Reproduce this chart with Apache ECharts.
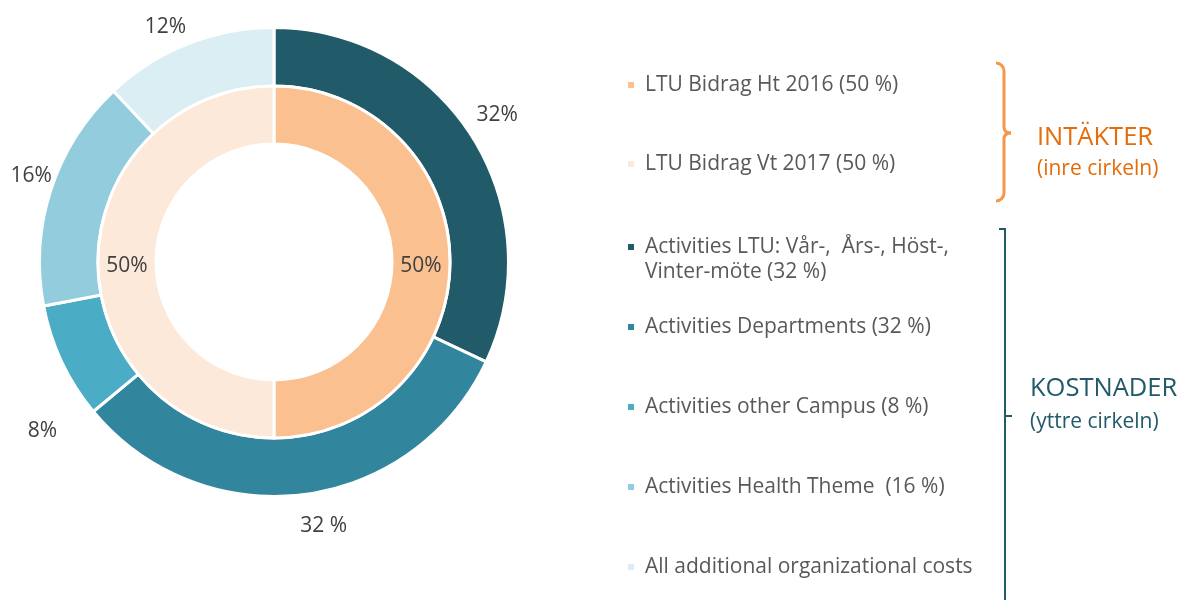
<!DOCTYPE html>
<html>
<head>
<meta charset="utf-8">
<script src="https://cdn.jsdelivr.net/npm/echarts@6/dist/echarts.min.js"></script>
<style>
  html, body { margin: 0; padding: 0; background: #fff; }
  #main { width: 1179px; height: 600px; }
</style>
</head>
<body>
<div id="main"></div>
<script>
// inre cirkeln (intäkter)
var innerNames = ['LTU Bidrag Ht 2016 (50 %)', 'LTU Bidrag Vt 2017 (50 %)'];
var innerValues = [50, 50];
var innerLabels = ['50%', '50%'];
var innerColors = ['#FAC090', '#FDE9D9'];

// yttre cirkeln (kostnader)
var outerNames = [
    'Activities LTU: Vår-,  Års-, Höst-,',
    'Activities Departments (32 %)',
    'Activities other Campus (8 %)',
    'Activities Health Theme  (16 %)',
    'All additional organizational costs'
];
var outerValues = [32, 32, 8, 16, 12];
var outerLabels = ['32%', '32 %', '8%', '16%', '12%'];
var outerColors = ['#215A69', '#31859C', '#4BACC6', '#93CDDD', '#DBEEF4'];

var font = 'Open Sans';
var labelColor = '#404040';
var orange = '#F79646';
var teal = '#215A69';

var myChart = echarts.init(document.getElementById('main'));

function pieData(names, values, colors, nudge) {
    var out = [];
    for (var i = 0; i < values.length; i++) {
        var d = { name: names[i], value: values[i], itemStyle: { color: colors[i] } };
        if (nudge) d.label = { offset: nudge[i] };
        out.push(d);
    }
    return out;
}

// små justeringar så etiketterna hamnar som i Excel-originalet
var innerNudge = [[-3, 4], [3, 4]];
var outerNudge = [[-3, -3], [16, -2], [11, 55], [12, -3], [-10, 14]];
var ghostData = [];
for (var i = 0; i < outerValues.length; i++) {
    ghostData.push({ value: outerValues[i], label: { offset: outerNudge[i] } });
}

var legendText = { color: '#595959', fontFamily: font, fontSize: 21, lineHeight: 22, padding: [0, 0, 0, 5] };
var legendBase = {
    orient: 'vertical', left: 626, padding: 0, icon: 'rect',
    itemWidth: 8, itemHeight: 8, textStyle: legendText, selectedMode: false
};

var braceStyle = { stroke: orange, lineWidth: 3, fill: null };
var option = {
    animation: false,
    legend: [
        Object.assign({}, legendBase, { top: 74, itemGap: 57, data: innerNames }),
        Object.assign({}, legendBase, { top: 236, data: [outerNames[0]] }),
        Object.assign({}, legendBase, { top: 316, itemGap: 58, data: outerNames.slice(1) })
    ],
    series: [
        {
            name: 'Kostnader',
            type: 'pie',
            center: [274, 262],
            radius: [176, 234.5],
            startAngle: 90,
            clockwise: true,
            silent: true,
            itemStyle: { borderColor: '#fff', borderWidth: 3 },
            label: { show: false },
            labelLine: { show: false },
            data: pieData(outerNames, outerValues, outerColors)
        },
        {
            name: 'Intäkter',
            type: 'pie',
            center: [274, 262],
            radius: [118, 176],
            startAngle: 90,
            clockwise: true,
            silent: true,
            itemStyle: { borderColor: '#fff', borderWidth: 3 },
            label: {
                show: true, position: 'inside', color: labelColor,
                fontFamily: font, fontSize: 21,
                formatter: function (p) { return innerLabels[p.dataIndex]; }
            },
            labelLine: { show: false },
            data: pieData(innerNames, innerValues, innerColors, innerNudge)
        },
        {
            // osynlig ring som bara bär de yttre etiketterna
            name: 'etiketter',
            type: 'pie',
            center: [274, 262],
            radius: [250, 280],
            startAngle: 90,
            clockwise: true,
            silent: true,
            itemStyle: { color: 'rgba(0,0,0,0)' },
            label: {
                show: true, position: 'inside', color: labelColor,
                fontFamily: font, fontSize: 21,
                formatter: function (p) { return outerLabels[p.dataIndex]; }
            },
            labelLine: { show: false },
            data: ghostData
        }
    ],
    graphic: [
        {
            type: 'text', left: 645, top: 262,
            style: { text: 'Vinter-möte (32 %)', fill: '#595959', font: '21px "Open Sans"' }
        },
        // klammer för intäkter
        { type: 'arc', shape: { cx: 996, cy: 71, r: 8, startAngle: -Math.PI / 2, endAngle: 0 }, style: braceStyle },
        { type: 'line', shape: { x1: 1004, y1: 71, x2: 1004, y2: 127 }, style: braceStyle },
        { type: 'bezierCurve', shape: { x1: 1004, y1: 127, cpx1: 1004, cpy1: 133, x2: 1011, y2: 133 }, style: braceStyle },
        { type: 'bezierCurve', shape: { x1: 1011, y1: 133, cpx1: 1004, cpy1: 133, x2: 1004, y2: 139 }, style: braceStyle },
        { type: 'line', shape: { x1: 1004, y1: 139, x2: 1004, y2: 193 }, style: braceStyle },
        { type: 'arc', shape: { cx: 996, cy: 193, r: 8, startAngle: 0, endAngle: Math.PI / 2 }, style: braceStyle },
        {
            type: 'text', left: 1037, top: 125,
            style: { text: 'INTÄKTER', fill: '#E46C0A', font: '25.5px "Open Sans"' }
        },
        {
            type: 'text', left: 1037, top: 159,
            style: { text: '(inre cirkeln)', fill: '#E46C0A', font: '21px "Open Sans"' }
        },
        // klammer för kostnader
        {
            type: 'polyline',
            shape: { points: [[999, 229], [1005, 229], [1005, 600]] },
            style: { stroke: teal, lineWidth: 2, fill: null }
        },
        { type: 'line', shape: { x1: 1005, y1: 416, x2: 1012, y2: 416 }, style: { stroke: teal, lineWidth: 2 } },
        {
            type: 'text', left: 1030, top: 376,
            style: { text: 'KOSTNADER', fill: teal, font: '25.5px "Open Sans"' }
        },
        {
            type: 'text', left: 1030, top: 412,
            style: { text: '(yttre cirkeln)', fill: teal, font: '21px "Open Sans"' }
        }
    ]
};

myChart.setOption(option);
</script>
</body>
</html>
